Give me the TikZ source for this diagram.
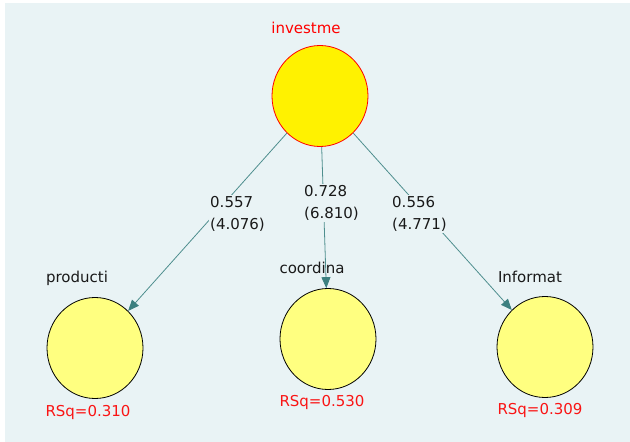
\documentclass[tikz,border=0pt]{standalone}
\usepackage{fontspec}
\setmainfont{DejaVu Sans}
\usetikzlibrary{arrows.meta,shapes.geometric}
\definecolor{panelbg}{RGB}{233,243,245}
\definecolor{edgeteal}{RGB}{78,142,142}
\definecolor{tipteal}{RGB}{60,128,128}
\definecolor{paleyellow}{RGB}{255,255,128}
\definecolor{rsqred}{RGB}{250,20,20}
\definecolor{txt}{RGB}{25,25,25}
\begin{document}
\begin{tikzpicture}[x=1pt,y=-1pt,
  every node/.style={font=\fontsize{15}{22}\selectfont},
  latent/.style={ellipse, minimum width=96pt, minimum height=101pt, inner sep=0pt, line width=0.8pt},
  exo/.style={latent, fill=yellow, draw=red},
  endo/.style={latent, fill=paleyellow, draw=black},
  varname/.style={text=txt, inner sep=0pt},
  topname/.style={text=red, inner sep=0pt},
  rsq/.style={text=rsqred, inner sep=0pt},
  structpath/.style={draw=edgeteal, line width=0.8pt, -{Triangle[length=11pt,width=9pt,color=tipteal]}},
  coef/.style={fill=panelbg, text=txt, align=left, anchor=west, inner sep=1pt}
]
\useasboundingbox (0,0) rectangle (630,442);
\fill[white] (0,0) rectangle (630,442);
\fill[panelbg] (5,3) rectangle (630,442);

% latent variables
\node[exo]  (inv)  at (320,96)  {};
\node[endo] (prod) at (95,348)  {};
\node[endo] (coor) at (328,339) {};
\node[endo] (info) at (545,347) {};

% names
\node[topname] (invname)  at (306,28)  {investme};
\node[varname] (prodname) at (77,278)  {producti};
\node[varname] (coorname) at (312,268) {coordina};
\node[varname] (infoname) at (530,277) {Informat};

% R-squared values
\node[rsq] (prodrsq) at (88,412)  {RSq=0.310};
\node[rsq] (coorrsq) at (322,402) {RSq=0.530};
\node[rsq] (inforsq) at (540,410) {RSq=0.309};

% structural paths
\draw[structpath] (inv) -- (prod);
\draw[structpath] (inv) -- (coor);
\draw[structpath] (inv) -- (info);

% path coefficients (t-values)
\node[coef] (c1) at (209,214) {0.557\\(4.076)};
\node[coef] (c2) at (303,203) {0.728\\(6.810)};
\node[coef] (c3) at (391,214) {0.556\\(4.771)};
\end{tikzpicture}
\end{document}
